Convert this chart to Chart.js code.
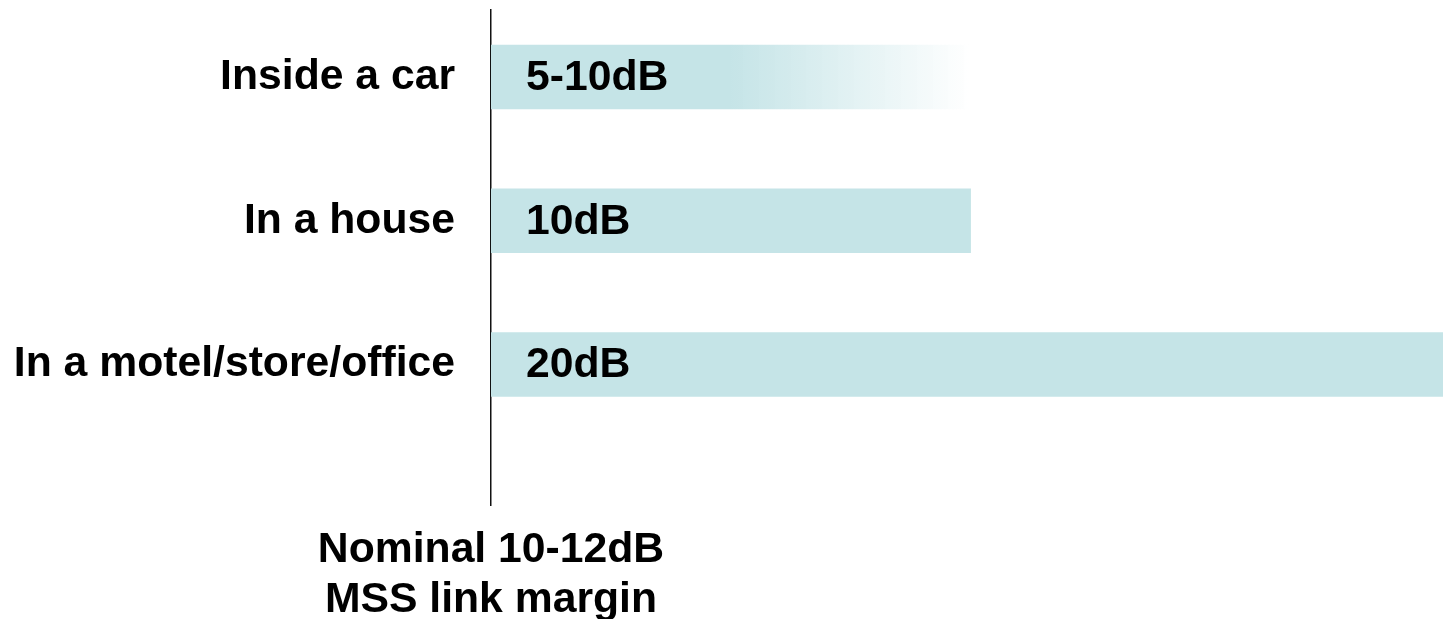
<!DOCTYPE html>
<html>
<head>
<meta charset="utf-8">
<script src="https://cdn.jsdelivr.net/npm/chart.js@4/dist/chart.umd.min.js"></script>
<style>
    body { margin: 0; background: #fff; }
    #box { width: 1443px; height: 619px; }
</style>
</head>
<body>
<div id="box"><canvas id="myChart"></canvas></div>
<script>
// data
var categories = ["Inside a car", "In a house", "In a motel/store/office"];
var lowValues = [5, 10, 20];    // solid part of the bar (dB)
var highValues = [10, 10, 20];  // end of the bar (dB)
var barTexts = ["5-10dB", "10dB", "20dB"];
var axisTitle = ["Nominal 10-12dB", "MSS link margin"];

var barColor = "rgb(197,228,231)";
var fontBig = "bold 42.7px 'Liberation Sans', Arial, sans-serif";

function barFill(ctx) {
    var chart = ctx.chart;
    var i = ctx.dataIndex;
    if (!chart.chartArea || lowValues[i] >= highValues[i]) {
        return barColor;
    }
    var xs = chart.scales.x;
    var g = chart.ctx.createLinearGradient(xs.getPixelForValue(lowValues[i]), 0, xs.getPixelForValue(highValues[i]), 0);
    g.addColorStop(0, barColor);
    g.addColorStop(1, "rgba(197,228,231,0)");
    return g;
}

// texts inside the bars and below the axis
var textPlugin = {
    id: "texts",
    afterDatasetsDraw: function (chart) {
        var c = chart.ctx;
        var x0 = chart.scales.x.getPixelForValue(0);
        var meta = chart.getDatasetMeta(0);
        c.save();
        c.font = fontBig;
        c.fillStyle = "#000";
        c.textAlign = "left";
        c.textBaseline = "middle";
        meta.data.forEach(function (bar, i) {
            c.fillText(barTexts[i], x0 + 35, bar.y + 1);
        });
        c.textAlign = "center";
        c.textBaseline = "alphabetic";
        c.fillText(axisTitle[0], x0, 562);
        c.fillText(axisTitle[1], x0, 612);
        c.restore();
    }
};

var mychart = new Chart(document.getElementById("myChart"), {
    type: "bar",
    data: {
        labels: categories,
        datasets: [{
                data: categories.map(function (c, i) {
                    return {y: i, x: highValues[i]};
                }),
                backgroundColor: barFill,
                borderWidth: 0,
                barThickness: 64
            }]
    },
    options: {
        indexAxis: "y",
        responsive: true,
        maintainAspectRatio: false,
        animation: false,
        layout: {padding: {top: 10, bottom: 114, left: 0, right: 0}},
        plugins: {
            legend: {display: false},
            tooltip: {enabled: false}
        },
        scales: {
            x: {
                type: "linear",
                display: false,
                min: 0,
                max: 19.85
            },
            y: {
                type: "linear",
                reverse: true,
                offset: false,
                min: -0.466,
                max: 2.977,
                afterFit: function (scale) {
                    scale.width = 491;
                },
                afterBuildTicks: function (scale) {
                    scale.ticks = categories.map(function (c, i) {
                        return {value: i};
                    });
                },
                grid: {
                    display: true,
                    drawOnChartArea: false,
                    tickLength: 36,
                    tickColor: "rgba(0,0,0,0)"
                },
                border: {display: true, color: "#111", width: 1.5},
                ticks: {
                    padding: 0,
                    color: "#000",
                    font: {family: "'Liberation Sans', Arial, sans-serif", size: 42.7, weight: "bold", lineHeight: 0.3},
                    callback: function (v) {
                        return categories[v];
                    }
                }
            }
        }
    },
    plugins: [textPlugin]
});
</script>
</body>
</html>
